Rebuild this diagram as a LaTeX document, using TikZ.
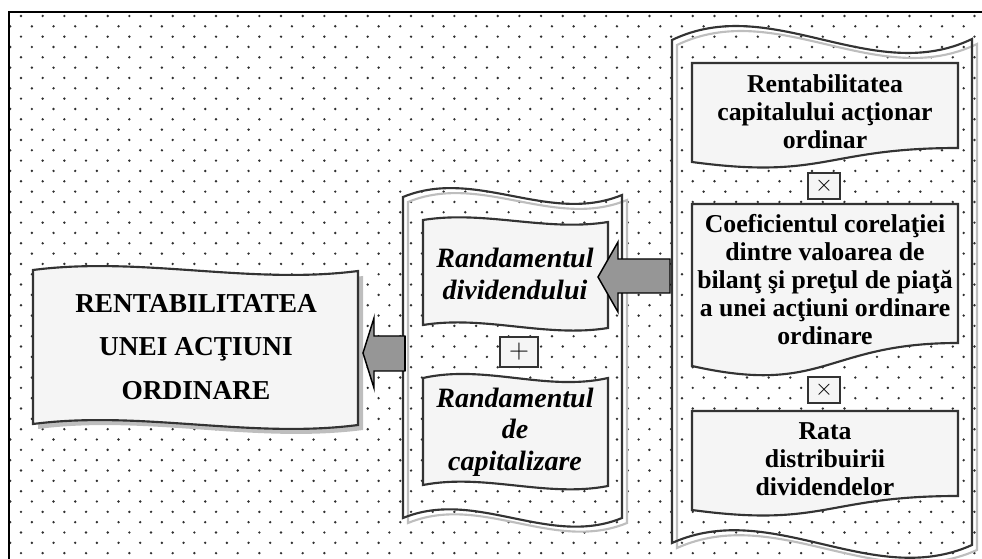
\documentclass[tikz,border=0pt]{standalone}
\usepackage{fontspec}
\setmainfont{Liberation Serif}
\usepackage{tikz}

\definecolor{dotgray}{HTML}{303030}
\definecolor{edgegray}{HTML}{333333}
\definecolor{boxfill}{HTML}{F5F5F5}
\definecolor{arrowgray}{HTML}{969696}
\definecolor{shadegray}{HTML}{BEBEBE}

\begin{document}
\begin{tikzpicture}[x=0.75pt, y=-0.75pt,
        wavebox/.style={draw=edgegray, fill=boxfill, line width=1.6pt},
        boxshadow/.style={fill=shadegray},
        panel/.style={draw=edgegray, line width=1.6pt},
        panelshadow/.style={draw=shadegray, line width=1.6pt},
        signbox/.style={draw=edgegray, fill=boxfill, line width=1.4pt, inner sep=0pt},
        blockarrow/.style={fill=arrowgray, draw=black, line width=1.1pt, line join=miter},
        bigtext/.style={align=center, font=\fontsize{20.5}{32.5}\selectfont\bfseries},
        midtext/.style={align=center, font=\fontsize{21}{23.5}\selectfont\bfseries\itshape},
        righttext/.style={align=center, font=\fontsize{19.3}{21}\selectfont\bfseries}]

    \useasboundingbox (0,0) rectangle (982,559);

    % Dotted background
    \begin{scope}
        \clip (9,12) rectangle (982,559);
        \foreach \r [evaluate=\r as \yy using {16+10.33*\r},
                     evaluate=\r as \xo using {21-10.8*mod(\r,2)}] in {0,...,53}
            \foreach \k in {0,...,45}
                \fill[dotgray] (\xo+21.67*\k, \yy) circle (1pt);
    \end{scope}
    \draw[line width=0.8pt] (9,559) -- (9,12) -- (982,12);

    % Result box
    \fill[boxshadow, shift={(5,5)}] (33,270) .. controls (141,256) and (250,285) .. (358,271)
        -- (358,425) .. controls (250,439) and (141,410) .. (33,424) -- cycle;
    \draw[wavebox] (33,270) .. controls (141,256) and (250,285) .. (358,271)
        -- (358,425) .. controls (250,439) and (141,410) .. (33,424) -- cycle;
    \node[bigtext] (result) at (196,347) {RENTABILITATEA\\UNEI ACŢIUNI\\ORDINARE};

    % Middle panel
    \draw[panelshadow, shift={(5,5)}] (403,197) .. controls (476,167) and (549,225) .. (622,195)
        -- (622,518) .. controls (549,548) and (476,488) .. (403,518) -- cycle;
    \draw[panel] (403,197) .. controls (476,167) and (549,225) .. (622,195)
        -- (622,518) .. controls (549,548) and (476,488) .. (403,518) -- cycle;

    \draw[wavebox] (423,220) .. controls (485,210) and (546,232) .. (608,222)
        -- (608,328) .. controls (546,338) and (485,315) .. (423,325) -- cycle;
    \node[midtext] (divyield) at (515,274) {Randamentul\\dividendului};

    \node[signbox, minimum width=28.5pt, minimum height=23pt] (plus) at (519,352)
        {\fontsize{22}{22}\selectfont$+$};

    \draw[wavebox] (423,378) .. controls (485,364) and (546,392) .. (608,378)
        -- (608,486) .. controls (546,498) and (485,473) .. (423,485) -- cycle;
    \node[midtext] (capyield) at (515,432) {Randamentul\\de\\capitalizare};

    % Right panel
    \draw[panelshadow, shift={(5,5)}] (672,40) .. controls (772,-8) and (872,87) .. (972,39)
        -- (972,545) .. controls (872,590) and (772,498) .. (672,543) -- cycle;
    \draw[panel] (672,40) .. controls (772,-8) and (872,87) .. (972,39)
        -- (972,545) .. controls (872,590) and (772,498) .. (672,543) -- cycle;

    \draw[wavebox] (692,63) -- (958,63) -- (958,148)
        .. controls (825,148) and (825,180) .. (692,162) -- cycle;
    \node[righttext] (roe) at (825,112) {Rentabilitatea\\capitalului acţionar\\ordinar};

    \node[signbox, minimum width=24pt, minimum height=19.5pt] (times1) at (824,186)
        {\fontsize{19}{19}\selectfont$\times$};

    \draw[wavebox] (692,204) -- (958,204) -- (958,343)
        .. controls (825,343) and (825,396) .. (692,366) -- cycle;
    \node[righttext] (coef) at (825,280) {Coeficientul corelaţiei\\dintre valoarea de\\bilanţ şi preţul de piaţă\\a unei acţiuni ordinare\\ordinare};

    \node[signbox, minimum width=24pt, minimum height=19.5pt] (times2) at (824,390)
        {\fontsize{19}{19}\selectfont$\times$};

    \draw[wavebox] (692,411) -- (958,411) -- (958,496)
        .. controls (825,496) and (825,528) .. (692,510) -- cycle;
    \node[righttext] (payout) at (825,459) {Rata\\distribuirii\\dividendelor};

    % Block arrows
    \draw[blockarrow] (670,259) -- (618,259) -- (618,242) -- (598,277)
        -- (618,312) -- (618,293) -- (670,293) -- cycle;
    \draw[blockarrow] (405,336) -- (374,336) -- (374,318) -- (363,353)
        -- (374,388) -- (374,371) -- (405,371) -- cycle;
    \draw[line width=2.2pt] (405,336) -- (405,371);
\end{tikzpicture}
\end{document}
